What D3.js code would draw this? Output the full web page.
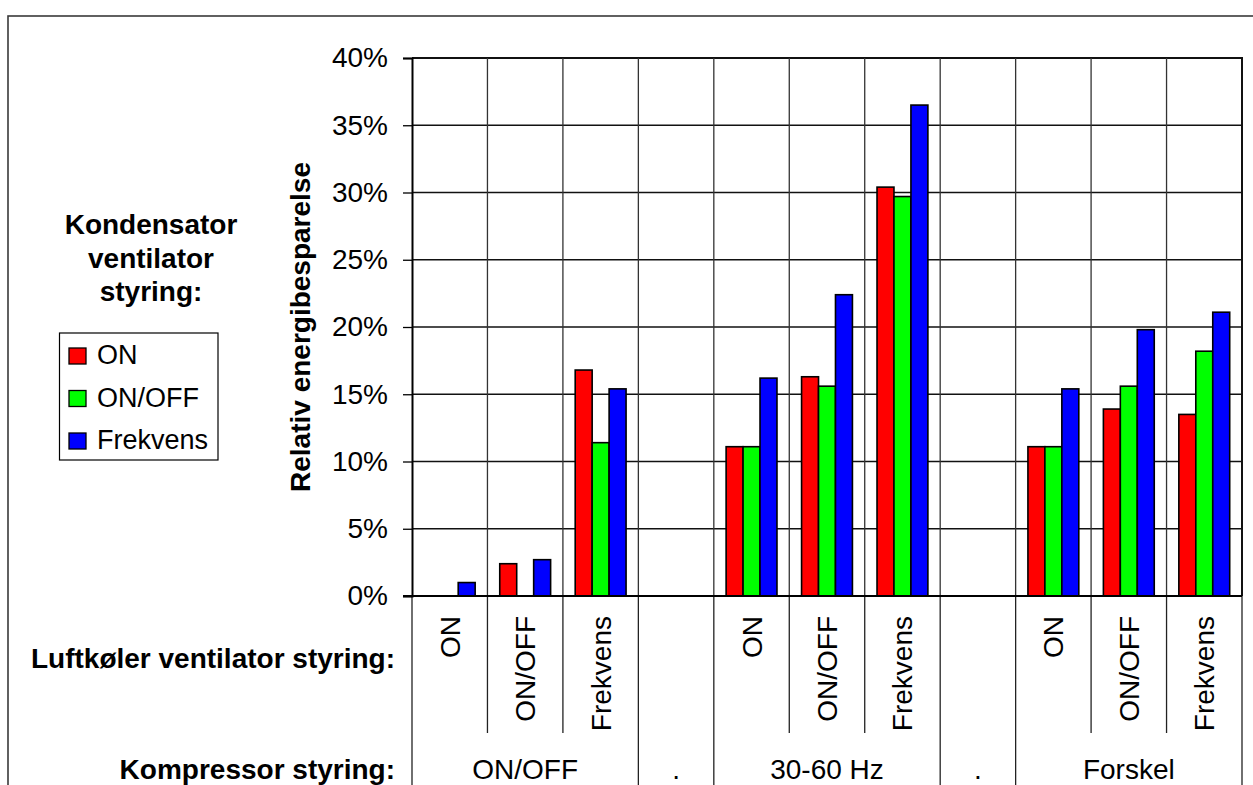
<!DOCTYPE html>
<html>
<head>
<meta charset="utf-8">
<script src="https://cdn.jsdelivr.net/npm/d3@7/dist/d3.min.js"></script>
<style>
  html, body { margin: 0; padding: 0; background: #fff; }
  svg { display: block; font-family: "Liberation Sans", Arial, sans-serif; }
</style>
</head>
<body>
<svg id="chart" width="1253" height="785"></svg>
<script>
// Sub-category (air cooler fan control) per column; empty columns separate the groups
const subCategories = ["ON", "ON/OFF", "Frekvens", "", "ON", "ON/OFF", "Frekvens", "", "ON", "ON/OFF", "Frekvens"];
// Compressor control groups and how many columns each spans
const groupLabels = ["ON/OFF", ".", "30-60 Hz", ".", "Forskel"];
const groupSpans = [3, 1, 3, 1, 3];
// Condenser fan control series
const seriesNames = ["ON", "ON/OFF", "Frekvens"];
const seriesColors = ["#ff0000", "#00ff00", "#0000ff"];
// Relative energy saving in %
const valuesOn      = [0.0, 2.4, 16.8, null, 11.1, 16.3, 30.4, null, 11.1, 13.9, 13.5];
const valuesOnOff   = [0.0, 0.0, 11.4, null, 11.1, 15.6, 29.7, null, 11.1, 15.6, 18.2];
const valuesFrekvens = [1.0, 2.7, 15.4, null, 16.2, 22.4, 36.5, null, 15.4, 19.8, 21.1];
const yTicks = [0, 5, 10, 15, 20, 25, 30, 35, 40];

const seriesValues = [valuesOn, valuesOnOff, valuesFrekvens];

const svg = d3.select("#chart");
const FS = 28;
const FS_LEGEND = 27;

// outer frame
svg.append("rect")
  .attr("x", 8).attr("y", 16).attr("width", 1260).attr("height", 800)
  .attr("fill", "none").attr("stroke", "#3a3a3a").attr("stroke-width", 1.6);

const colIds = subCategories.map((d, i) => i);
const x = d3.scaleBand().domain(colIds).range([412, 1242]).paddingInner(0).paddingOuter(0);
const y = d3.scaleLinear().domain([0, 40]).range([596, 58]);

const barW = x.bandwidth() / 4.45;
const groupW = barW * 3;

// horizontal gridlines
svg.append("g").selectAll("line").data(yTicks).join("line")
  .attr("x1", 412).attr("x2", 1242)
  .attr("y1", d => y(d)).attr("y2", d => y(d))
  .attr("stroke", "#111").attr("stroke-width", d => d === 40 ? 2 : 1.3);

// vertical column boundaries (through plot and label table)
const boundaries = d3.range(subCategories.length + 1);
const groupEdges = new Set([0]);
let acc = 0;
groupSpans.forEach(s => { acc += s; groupEdges.add(acc); });
const xEdge = i => i < subCategories.length ? x(i) : x(subCategories.length - 1) + x.bandwidth();

svg.append("g").selectAll("line").data(boundaries.filter(i => i > 0 && i < subCategories.length)).join("line")
  .attr("x1", xEdge).attr("x2", xEdge)
  .attr("y1", 58).attr("y2", 596)
  .attr("stroke", "#333").attr("stroke-width", 1.3);

svg.append("g").selectAll("line").data(boundaries).join("line")
  .attr("x1", xEdge).attr("x2", xEdge)
  .attr("y1", 596).attr("y2", i => groupEdges.has(i) ? 790 : 733)
  .attr("stroke", "#222").attr("stroke-width", 1.3);

// right plot border
svg.append("line")
  .attr("x1", 1242).attr("x2", 1242).attr("y1", 57).attr("y2", 596)
  .attr("stroke", "#111").attr("stroke-width", 2);

// bars
const barData = [];
seriesValues.forEach((vals, s) => {
  vals.forEach((v, i) => {
    if (v !== null) barData.push({ s, i, v });
  });
});
svg.append("g").selectAll("rect").data(barData).join("rect")
  .attr("x", d => x(d.i) + (x.bandwidth() - groupW) / 2 + d.s * barW)
  .attr("y", d => y(d.v))
  .attr("width", barW)
  .attr("height", d => y(0) - y(d.v))
  .attr("fill", d => seriesColors[d.s])
  .attr("stroke", "#000").attr("stroke-width", 1.6);

// y axis
const yAxis = d3.axisLeft(y).tickValues(yTicks).tickSize(9).tickPadding(15).tickFormat(d => d + "%");
const yg = svg.append("g").attr("transform", "translate(412,0)").call(yAxis);
yg.select(".domain").attr("stroke", "#000").attr("stroke-width", 2);
yg.selectAll(".tick line").attr("stroke", "#000").attr("stroke-width", 1.3);
yg.selectAll(".tick text").attr("font-size", FS).attr("fill", "#000")
  .attr("font-family", "Liberation Sans, Arial, sans-serif");

// zero line
svg.append("line")
  .attr("x1", 403).attr("x2", 1242).attr("y1", y(0)).attr("y2", y(0))
  .attr("stroke", "#000").attr("stroke-width", 2);

// y axis title
svg.append("text")
  .attr("transform", `translate(310,${(y(0) + y(40)) / 2}) rotate(-90)`)
  .attr("text-anchor", "middle")
  .attr("font-size", FS).attr("font-weight", "bold")
  .text("Relativ energibesparelse");

// rotated sub-category labels
svg.append("g").selectAll("text").data(colIds.filter(i => subCategories[i] !== "")).join("text")
  .attr("transform", i => `translate(${x(i) + x.bandwidth() / 2 + 10},616) rotate(-90)`)
  .attr("text-anchor", "end")
  .attr("font-size", FS)
  .text(i => subCategories[i]);

// group labels
let start = 0;
const groupPos = groupSpans.map(s => { const p = { a: start, b: start + s }; start += s; return p; });
svg.append("g").selectAll("text").data(groupLabels).join("text")
  .attr("x", (d, k) => (xEdge(groupPos[k].a) + xEdge(groupPos[k].b)) / 2)
  .attr("y", 779)
  .attr("text-anchor", "middle")
  .attr("font-size", FS)
  .text(d => d);

// row headings
svg.append("text").attr("x", 395).attr("y", 668).attr("text-anchor", "end")
  .attr("font-size", FS).attr("font-weight", "bold").text("Luftkøler ventilator styring:");
svg.append("text").attr("x", 395).attr("y", 779).attr("text-anchor", "end")
  .attr("font-size", FS).attr("font-weight", "bold").text("Kompressor styring:");

// legend heading
const headLines = ["Kondensator", "ventilator", "styring:"];
svg.append("g").selectAll("text").data(headLines).join("text")
  .attr("x", 151).attr("y", (d, i) => 234 + i * 33.5)
  .attr("text-anchor", "middle")
  .attr("font-size", FS).attr("font-weight", "bold")
  .text(d => d);

// legend box
const lg = svg.append("g");
lg.append("rect").attr("x", 59.5).attr("y", 333).attr("width", 158.5).attr("height", 127)
  .attr("fill", "#fff").attr("stroke", "#000").attr("stroke-width", 1.2);
const items = lg.selectAll("g.item").data(seriesNames).join("g").attr("class", "item")
  .attr("transform", (d, i) => `translate(69,${348 + i * 42.5})`);
items.append("rect").attr("width", 17).attr("height", 16)
  .attr("fill", (d, i) => seriesColors[i]).attr("stroke", "#000").attr("stroke-width", 1.3);
items.append("text").attr("x", 28).attr("y", 16)
  .attr("font-size", FS_LEGEND).text(d => d);
</script>
</body>
</html>
